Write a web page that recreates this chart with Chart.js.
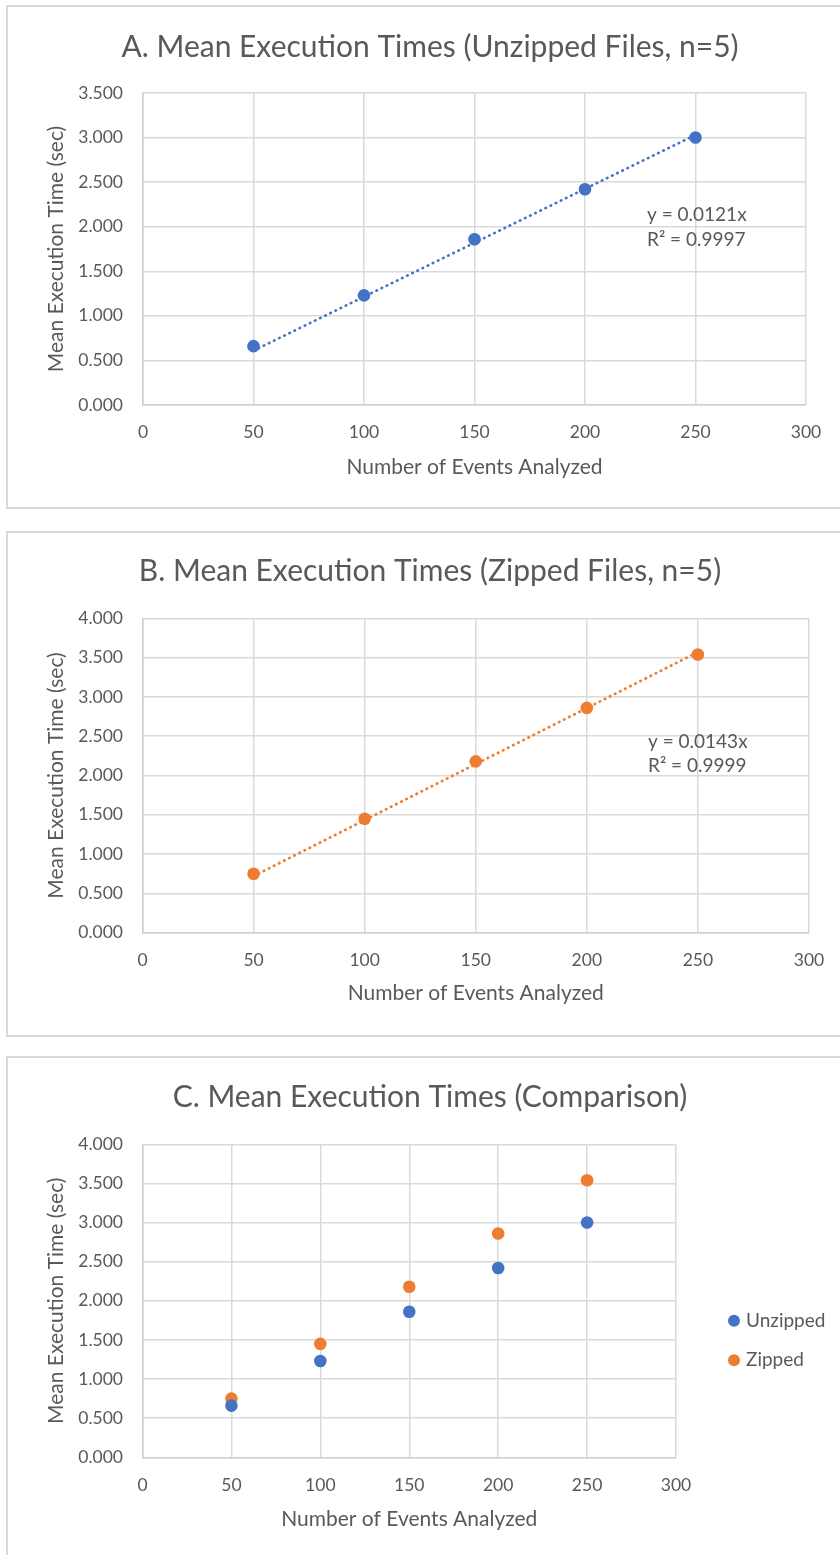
<!DOCTYPE html>
<html>
<head>
<meta charset="utf-8">
<title>Mean Execution Times</title>
<script src="https://cdn.jsdelivr.net/npm/chart.js@4.4.1/dist/chart.umd.min.js"></script>
<style>
  html, body { margin: 0; padding: 0; background: #fff; }
  body { width: 840px; height: 1555px; position: relative; overflow: hidden; }
  .frame { position: absolute; left: 6px; width: 900px; border: 2px solid #d9d9d9; box-sizing: border-box; }
  canvas { position: absolute; left: 0; }
</style>
</head>
<body>
<div class="frame" style="top:5px;height:504px"></div>
<div class="frame" style="top:531px;height:506px"></div>
<div class="frame" style="top:1056px;height:560px"></div>
<canvas id="chartA" width="860" height="520" style="top:0"></canvas>
<canvas id="chartB" width="860" height="520" style="top:520px"></canvas>
<canvas id="chartC" width="860" height="515" style="top:1040px"></canvas>

<script>
// DATA
const events = [50, 100, 150, 200, 250];
const unzipped = [0.66, 1.23, 1.86, 2.42, 3.00];
const zipped = [0.75, 1.45, 2.18, 2.86, 3.54];

// trendline ends
const trendX = [50, 250];
const trendUnzipped = [0.61, 3.03];
const trendZipped = [0.72, 3.57];

// TICKS
const xTicks = [0, 50, 100, 150, 200, 250, 300];
const yTicksA = [0, 0.5, 1, 1.5, 2, 2.5, 3, 3.5];
const yTicksB = [0, 0.5, 1, 1.5, 2, 2.5, 3, 3.5, 4];

const BLUE = "#4472C4";
const ORANGE = "#ED7D31";
const TEXT = "#595959";
const GRID = "#d9d9d9";
const FONT = "Lato";

function points(xs, ys) {
    return xs.map((x, i) => ({ x: x, y: ys[i] }));
}

// trendline equation text
const equationPlugin = {
    id: "equation",
    afterDatasetsDraw(chart, args, opts) {
        if (!opts.lines) return;
        const ctx = chart.ctx;
        ctx.save();
        ctx.font = "19px " + FONT;
        ctx.fillStyle = TEXT;
        ctx.textBaseline = "middle";
        opts.lines.forEach((t, i) => ctx.fillText(t, opts.x, opts.y + i * opts.gap));
        ctx.restore();
    }
};

// legend drawn at the right like excel does
const sideLegendPlugin = {
    id: "sideLegend",
    afterDraw(chart, args, opts) {
        if (!opts.x) return;
        const ctx = chart.ctx;
        ctx.save();
        ctx.font = "19px " + FONT;
        ctx.textBaseline = "middle";
        chart.data.datasets.forEach((ds, i) => {
            const y = opts.y + i * opts.gap;
            ctx.fillStyle = ds.backgroundColor;
            ctx.beginPath();
            ctx.arc(opts.x, y, 6, 0, Math.PI * 2);
            ctx.fill();
            ctx.fillStyle = TEXT;
            ctx.fillText(ds.label, opts.x + 12, y);
        });
        ctx.restore();
    }
};

function markers(label, color, ys) {
    return {
        label: label,
        data: points(events, ys),
        backgroundColor: color,
        borderColor: color,
        pointRadius: 6.3,
        pointHoverRadius: 6.3,
        pointBorderWidth: 0,
        order: 0
    };
}

function trend(color, ys) {
    return {
        label: "trend",
        data: points(trendX, ys),
        showLine: true,
        borderColor: color,
        borderWidth: 2.75,
        borderDash: [0.5, 5.2],
        borderCapStyle: "round",
        pointRadius: 0,
        pointHoverRadius: 0,
        order: 1
    };
}

function makeChart(id, o) {
    return new Chart(document.getElementById(id), {
        type: "scatter",
        data: { datasets: o.datasets },
        options: {
            responsive: false,
            animation: false,
            events: [],
            layout: { padding: 0 },
            plugins: {
                legend: { display: false },
                tooltip: { enabled: false },
                title: {
                    display: true,
                    text: o.title,
                    color: TEXT,
                    font: { family: FONT, size: 30, weight: "normal" },
                    padding: { top: o.titleTop, bottom: o.titleBottom }
                },
                equation: o.equation || {},
                sideLegend: o.legend || {}
            },
            scales: {
                x: {
                    type: "linear",
                    min: 0,
                    max: 300,
                    afterBuildTicks: s => { s.ticks = xTicks.map(v => ({ value: v })); },
                    afterFit: s => { s.height = o.xHeight; },
                    grid: { color: GRID, lineWidth: 1.5, drawTicks: false },
                    border: { color: "#cfcfcf", width: 1.5 },
                    ticks: { color: TEXT, font: { family: FONT, size: 17.5 }, padding: o.xTickPad, maxRotation: 0 },
                    title: {
                        display: true,
                        text: "Number of Events Analyzed",
                        color: TEXT,
                        font: { family: FONT, size: 21 },
                        padding: { top: 0, bottom: o.xTitlePad }
                    }
                },
                y: {
                    min: 0,
                    max: o.yMax,
                    afterBuildTicks: s => { s.ticks = o.yTicks.map(v => ({ value: v })); },
                    afterFit: s => { s.width = o.yWidth; },
                    grid: { color: GRID, lineWidth: 1.5, drawTicks: false },
                    border: { color: "#cfcfcf", width: 1.5 },
                    ticks: {
                        color: TEXT,
                        font: { family: FONT, size: 17.5 },
                        padding: o.yWidth - 123,
                        callback: v => Number(v).toFixed(3)
                    },
                    title: {
                        display: true,
                        text: "Mean Execution Time (sec)",
                        color: TEXT,
                        font: { family: FONT, size: 21 },
                        padding: { top: 43.5, bottom: 0 }
                    }
                },
                // empty right-hand axis, only reserves space so the title stays centred on the frame
                spacer: {
                    position: "right",
                    min: 0,
                    max: 1,
                    afterFit: s => { s.width = o.padRight; },
                    grid: { display: false },
                    border: { display: false },
                    ticks: { display: false }
                }
            }
        },
        plugins: [equationPlugin, sideLegendPlugin]
    });
}

// A. UNZIPPED
makeChart("chartA", {
    title: "A. Mean Execution Times (Unzipped Files, n=5)",
    datasets: [markers("Unzipped", BLUE, unzipped), trend(BLUE, trendUnzipped)],
    yMax: 3.5,
    yTicks: yTicksA,
    padRight: 54,
    yWidth: 143,
    titleTop: 29,
    titleBottom: 28,
    xHeight: 115,
    xTickPad: 16.5,
    xTitlePad: 40.4,
    equation: { lines: ["y = 0.0121x", "R\u00b2 = 0.9997"], x: 647, y: 215, gap: 24.5 }
});

// B. ZIPPED
makeChart("chartB", {
    title: "B. Mean Execution Times (Zipped Files, n=5)",
    datasets: [markers("Zipped", ORANGE, zipped), trend(ORANGE, trendZipped)],
    yMax: 4,
    yTicks: yTicksB,
    padRight: 51,
    yWidth: 142.5,
    titleTop: 33.7,
    titleBottom: 28.6,
    xHeight: 107.3,
    xTickPad: 16.8,
    xTitlePad: 34.4,
    equation: { lines: ["y = 0.0143x", "R\u00b2 = 0.9999"], x: 648, y: 221.5, gap: 24.5 }
});

// C. COMPARISON
makeChart("chartC", {
    title: "C. Mean Execution Times (Comparison)",
    datasets: [markers("Unzipped", BLUE, unzipped), markers("Zipped", ORANGE, zipped)],
    yMax: 4,
    yTicks: yTicksB,
    padRight: 184,
    yWidth: 142.5,
    titleTop: 39,
    titleBottom: 29.3,
    xHeight: 97.7,
    xTickPad: 17.2,
    xTitlePad: 23.4,
    legend: { x: 734, y: 280.7, gap: 39.5 }
});
</script>
</body>
</html>
